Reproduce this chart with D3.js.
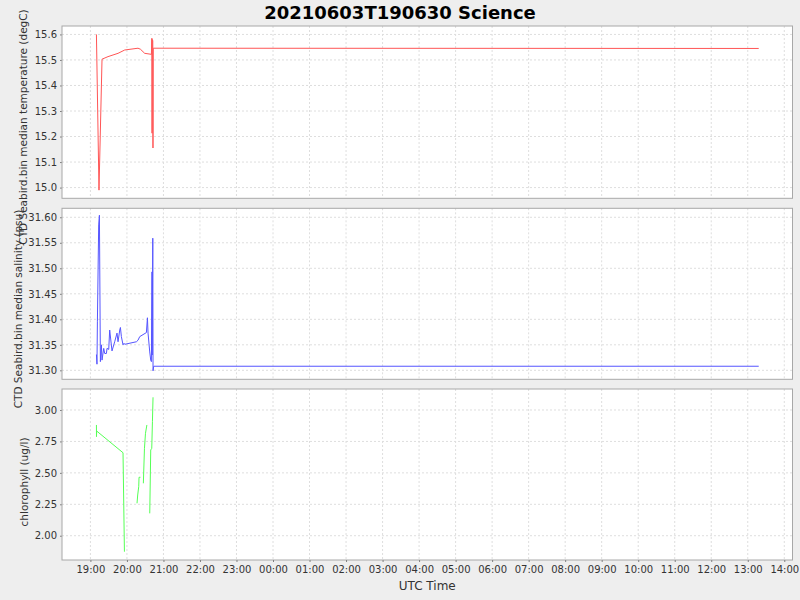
<!DOCTYPE html>
<html><head><meta charset="utf-8">
<script src="https://cdn.jsdelivr.net/npm/d3@7"></script>
<style>
body{margin:0;background:#eeeeee;}
svg{display:block;font-family:"DejaVu Sans",sans-serif;}
</style></head><body>
<svg id="c" width="800" height="600"></svg>
<script>
const title = "20210603T190630 Science";
const xLabel = "UTC Time";
const xTickLabels = ["19:00","20:00","21:00","22:00","23:00","00:00","01:00","02:00","03:00","04:00","05:00","06:00","07:00","08:00","09:00","10:00","11:00","12:00","13:00","14:00"];
const xDomain = ["2021-06-03T18:13:20Z","2021-06-04T14:13:30Z"];

const tempLabel = "CTD Seabird.bin median temperature (degC)";
const tempTimes = ["19:09:54","19:14:06","19:19:06","19:28:54","19:45:24","19:56:24","20:18:12","20:22:12","20:29:12","20:40:12","20:41:00","20:41:18","20:41:36","20:42:30","20:42:48","20:43:12","13:18:00"];
const tempValues = [15.60,14.99,15.503,15.513,15.526,15.539,15.546,15.542,15.526,15.522,15.585,15.213,15.58,15.575,15.155,15.546,15.545];
const tempTicks = [15.0,15.1,15.2,15.3,15.4,15.5,15.6];

const salLabel = "CTD Seabird.bin median salinity (psu)";
const salTimes = ["19:09:54","19:10:48","19:11:30","19:13:36","19:14:48","19:16:24","19:18:06","19:19:06","19:21:54","19:23:30","19:26:18","19:27:18","19:30:06","19:31:42","19:35:30","19:39:54","19:43:42","19:45:24","19:48:12","19:49:18","19:50:54","19:53:36","19:55:12","19:56:24","20:15:36","20:18:12","20:21:00","20:32:00","20:33:42","20:34:42","20:37:30","20:39:06","20:40:12","20:41:12","20:41:30","20:42:30","20:42:54","20:44:00","13:18:00"];
const salValues = [31.331,31.312,31.395,31.585,31.604,31.317,31.35,31.32,31.343,31.333,31.333,31.343,31.341,31.379,31.338,31.356,31.373,31.356,31.379,31.384,31.366,31.35,31.353,31.351,31.356,31.359,31.366,31.374,31.403,31.373,31.336,31.320,31.317,31.493,31.33,31.559,31.299,31.308,31.308];
const salTicks = [31.30,31.35,31.40,31.45,31.50,31.55,31.60];

const chlLabel = "chlorophyll (ug/l)";
const chlTimes = ["19:09:54","19:10:00","19:10:12","19:53:36","19:55:54","19:56:30","20:16:36","20:17:42","20:19:24","20:19:54","20:22:12","20:22:30","20:27:00","20:28:48","20:30:30","20:32:48","20:33:00","20:37:30","20:39:06","20:40:48","20:41:54","20:42:54"];
const chlValues = [2.881,2.788,2.833,2.660,1.873,null,2.258,2.324,2.39,2.465,2.465,null,2.417,2.695,2.815,2.881,null,2.178,2.682,2.695,2.907,3.101];
const chlTicks = [2.00,2.25,2.50,2.75,3.00];

function toDate(t){ const h = +t.slice(0,2); return new Date((h < 18 ? "2021-06-04T" : "2021-06-03T") + t + "Z"); }

const svg = d3.select("#c");
const L = 62, R = 792.5;
const x = d3.scaleUtc().domain(xDomain.map(s=>new Date(s))).range([L,R]);

svg.append("text").attr("x",400).attr("y",19).attr("text-anchor","middle")
  .attr("font-size",18).attr("font-weight","bold").attr("fill","#000").text(title);

const panels = [
  {label:tempLabel, times:tempTimes, values:tempValues, ticks:tempTicks, fmt:d3.format(".1f"), dom:[14.958,15.633], top:26, bot:198.3, color:"#ff5555", lx:23, ly:127},
  {label:salLabel, times:salTimes, values:salValues, ticks:salTicks, fmt:d3.format(".2f"), dom:[31.2824,31.6176], top:208.3, bot:379.3, color:"#5555ff", lx:18, ly:309},
  {label:chlLabel, times:chlTimes, values:chlValues, ticks:chlTicks, fmt:d3.format(".2f"), dom:[1.807,3.167], top:389, bot:560, color:"#55ff55", lx:24, ly:482}
];

const xTickDates = xTickLabels.map((s,i)=> new Date(Date.UTC(2021,5,3,19+i,0,0)));

panels.forEach((p,pi)=>{
  const y = d3.scaleLinear().domain(p.dom).range([p.bot,p.top]);
  const g = svg.append("g");
  g.append("rect").attr("x",L).attr("y",p.top).attr("width",R-L).attr("height",p.bot-p.top).attr("fill","#fff");
  g.append("g").selectAll("line").data(xTickDates).join("line")
    .attr("x1",d=>x(d)).attr("x2",d=>x(d)).attr("y1",p.top).attr("y2",p.bot)
    .attr("stroke","#dedede").attr("stroke-width",1).attr("stroke-dasharray","2,2");
  g.append("g").selectAll("line").data(p.ticks).join("line")
    .attr("x1",L).attr("x2",R).attr("y1",d=>y(d)).attr("y2",d=>y(d))
    .attr("stroke","#dedede").attr("stroke-width",1).attr("stroke-dasharray","2,2");
  const ya = d3.axisLeft(y).tickValues(p.ticks).tickFormat(p.fmt).tickSize(2).tickPadding(3);
  const yg = g.append("g").attr("transform",`translate(${L},0)`).call(ya);
  yg.select(".domain").remove();
  yg.selectAll("line").attr("stroke","#808080");
  yg.selectAll("text").attr("font-size",10).attr("fill","#333").attr("font-family","DejaVu Sans");
  g.append("rect").attr("x",L).attr("y",p.top).attr("width",R-L).attr("height",p.bot-p.top)
    .attr("fill","none").attr("stroke","#a8a8a8").attr("stroke-width",1);
  const data = p.times.map((t,i)=>({t:toDate(t), v:p.values[i]}));
  const line = d3.line().defined(d=>d.v!==null).x(d=>x(d.t)).y(d=>y(d.v));
  g.append("path").datum(data).attr("d",line).attr("fill","none").attr("stroke",p.color).attr("stroke-width",1);
  svg.append("text").attr("transform",`translate(${p.lx},${p.ly}) rotate(-90)`)
    .attr("text-anchor","middle").attr("dy","0.35em").attr("font-size",10.5).attr("fill","#333").text(p.label);

  if(pi===2){
    const xa = d3.axisBottom(x).tickValues(xTickDates).tickFormat((d,i)=>xTickLabels[i]).tickSize(2).tickPadding(4);
    const xg = svg.append("g").attr("transform",`translate(0,${p.bot})`).call(xa);
    xg.select(".domain").remove();
    xg.selectAll("line").attr("stroke","#808080");
    xg.selectAll("text").attr("font-size",10).attr("fill","#333").attr("font-family","DejaVu Sans");
  }
});

svg.append("text").attr("x",(L+R)/2).attr("y",590).attr("text-anchor","middle").attr("font-size",12).attr("fill","#333").text(xLabel);
</script>
</body></html>
